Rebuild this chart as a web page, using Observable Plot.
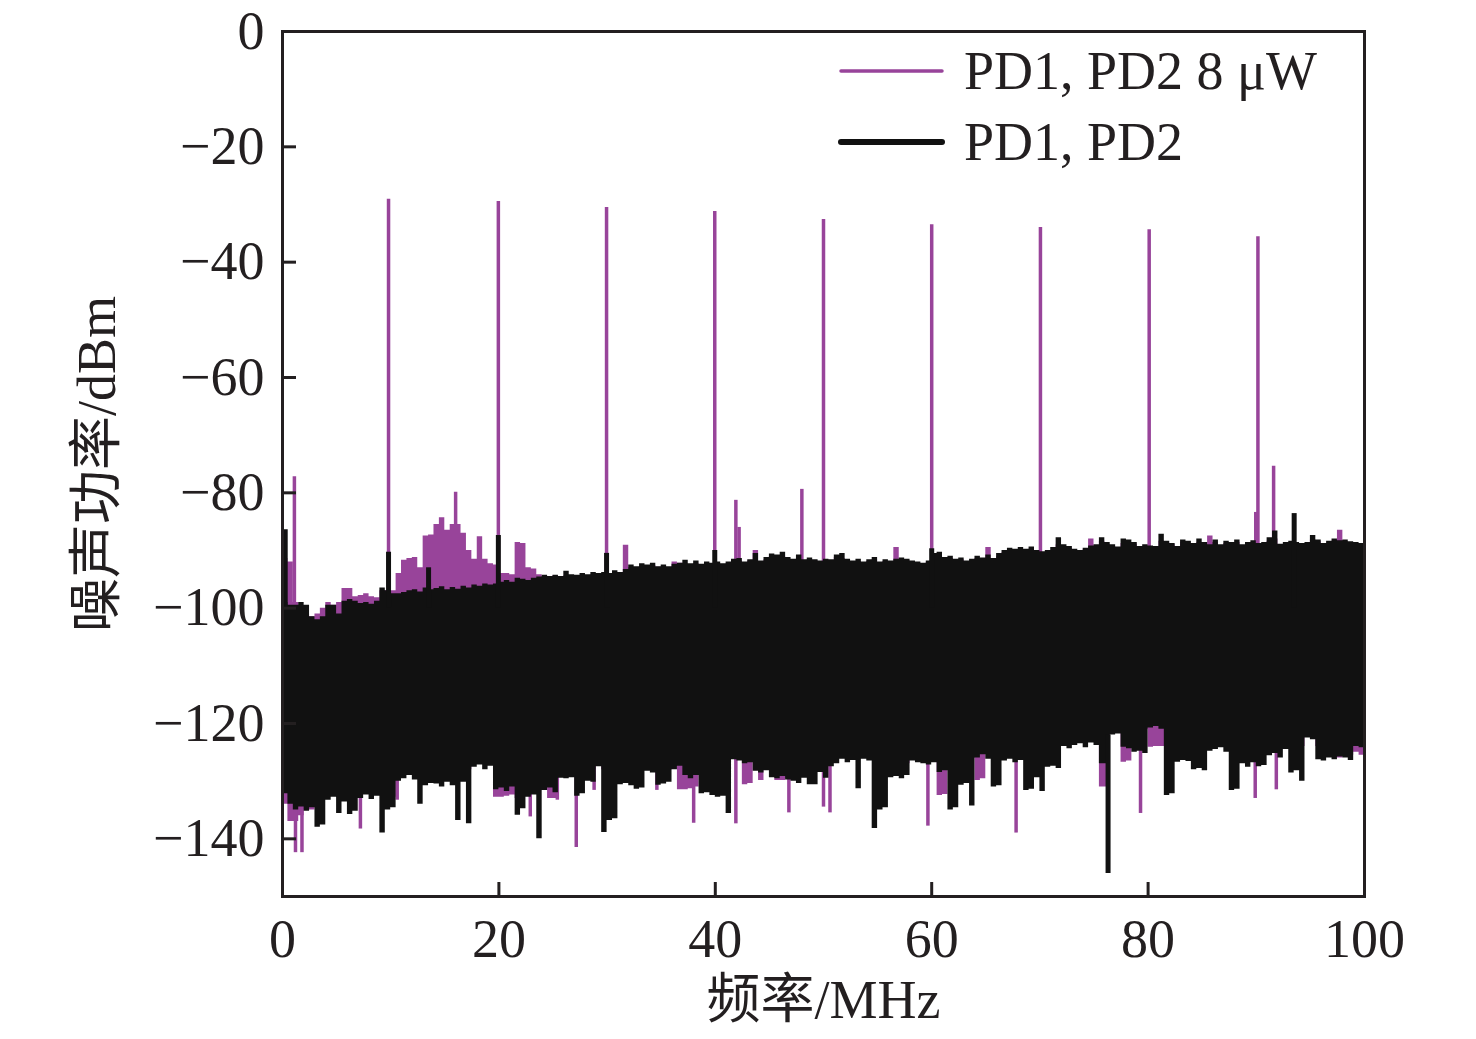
<!DOCTYPE html>
<html>
<head>
<meta charset="utf-8">
<script src="https://cdn.jsdelivr.net/npm/d3@7"></script>
<script src="https://cdn.jsdelivr.net/npm/@observablehq/plot@0.6"></script>
<style>
  html, body { margin: 0; padding: 0; background: #fff; }
  #chart { width: 1476px; height: 1039px; }
</style>
</head>
<body>
<div id="chart"></div>
<script>
// ---------- DATA ----------
const xTicks = [0, 20, 40, 60, 80, 100];
const yTicks = [0, -20, -40, -60, -80, -100, -120, -140];
const xLabel = "频率/MHz";
const yLabel = "噪声功率/dBm";
const seriesNames = ["PD1, PD2 8 μW", "PD1, PD2"];

// frequency sample grid, MHz
const freqs = [0,0.5,1,1.5,2,2.5,3,3.5,4,4.5,5,5.5,6,6.5,7,7.5,8,8.5,9,9.5,
10,10.5,11,11.5,12,12.5,13,13.5,14,14.5,15,15.5,16,16.5,17,17.5,18,18.5,19,19.5,
20,20.5,21,21.5,22,22.5,23,23.5,24,24.5,25,25.5,26,26.5,27,27.5,28,28.5,29,29.5,
30,30.5,31,31.5,32,32.5,33,33.5,34,34.5,35,35.5,36,36.5,37,37.5,38,38.5,39,39.5,
40,40.5,41,41.5,42,42.5,43,43.5,44,44.5,45,45.5,46,46.5,47,47.5,48,48.5,49,49.5,
50,50.5,51,51.5,52,52.5,53,53.5,54,54.5,55,55.5,56,56.5,57,57.5,58,58.5,59,59.5,
60,60.5,61,61.5,62,62.5,63,63.5,64,64.5,65,65.5,66,66.5,67,67.5,68,68.5,69,69.5,
70,70.5,71,71.5,72,72.5,73,73.5,74,74.5,75,75.5,76,76.5,77,77.5,78,78.5,79,79.5,
80,80.5,81,81.5,82,82.5,83,83.5,84,84.5,85,85.5,86,86.5,87,87.5,88,88.5,89,89.5,
90,90.5,91,91.5,92,92.5,93,93.5,94,94.5,95,95.5,96,96.5,97,97.5,98,98.5,99,99.5,100];

// PD1, PD2 (black): upper and lower envelope of the noise band, dBm
const blackTop = [
-99,-99.5,-99.5,-99,-99.5,-101.5,-102,-101.5,-99.5,-99.5,
-101,-98.8,-98.5,-98.8,-99.2,-99,-99.3,-98.8,-96.5,-97,
-97.5,-97.5,-97.3,-97,-96.8,-97.2,-96.5,-96.8,-96.6,-96.3,
-96.8,-96.4,-96.7,-96.2,-96.5,-96,-96.2,-95.8,-96,-95.8,
-95.5,-95.2,-95.5,-94.8,-95,-95.2,-94.8,-94.6,-94.3,-94.5,
-94.3,-94.5,-93.6,-94.2,-94.3,-94,-94.2,-93.8,-94,-93.8,
-94,-93.5,-93.8,-93.3,-92.5,-92.8,-92.3,-92.5,-92.2,-92.8,
-92.5,-92.8,-92.4,-92.2,-91.7,-92.3,-91.8,-92.4,-92,-92.2,
-92,-92.3,-92,-91.5,-91.4,-92,-91.6,-90.5,-91.8,-91.2,
-90.6,-90.8,-90.3,-91.2,-91.5,-90.8,-91.6,-91.3,-91.6,-91.8,
-91.5,-91.6,-90.8,-90.5,-91.5,-91.8,-91.5,-92,-91.6,-91.2,
-92,-91.6,-91.8,-91.5,-91.3,-91.5,-91.8,-92,-92.2,-91.8,
-90.5,-90.3,-91.2,-91,-91.5,-91.3,-91.8,-91.5,-91,-91.3,
-90.8,-91.4,-90.5,-90,-89.6,-89.8,-89.5,-89.8,-89.4,-90,
-90.2,-90,-89.5,-87.8,-89,-89.3,-89.8,-90,-89.6,-89.2,
-89,-87.8,-88.6,-89,-89.4,-88,-88.2,-88.6,-89.3,-89,
-89.2,-89.3,-87.2,-88.4,-88.8,-89.3,-88.2,-88.4,-88.8,-88,
-88.6,-89,-88.2,-89,-88.4,-88.6,-88.2,-89,-88.6,-88.3,
-88.8,-88.6,-87.8,-86.6,-88.9,-88.6,-88.4,-88.6,-88.8,-88.6,
-87.4,-88.2,-88.8,-88.4,-88,-88.3,-88.2,-88.5,-88.6,-88.8,
-88.8];
const blackBottom = [
-132.2,-134,-135,-134.5,-135.2,-134.6,-138,-137.6,-133.3,-132.8,
-135.6,-133.6,-135.8,-135.2,-133,-132.4,-133.2,-132.6,-139,-135,
-134.6,-130,-129.6,-129,-129.8,-134,-130.8,-130.4,-130.5,-131,
-130.2,-130.8,-136.8,-130.2,-137.4,-127.6,-127.2,-128,-127.4,-131.5,
-131.2,-131.8,-131,-135.9,-134.8,-132.8,-132.4,-140,-131.6,-131.2,
-132,-129.5,-129.6,-129.4,-132.6,-132.2,-130,-130.2,-127.5,-138.9,
-136.8,-136.5,-130.6,-130.4,-130.8,-131.4,-131.2,-128.3,-128.6,-130.7,
-130.5,-130.2,-128,-127.4,-129,-129.6,-129,-132.2,-132,-132.5,
-132.8,-132.6,-135.6,-126.3,-126.5,-127,-126.8,-128.3,-128.6,-128.2,
-129.4,-129.6,-129.2,-129.8,-130,-130.4,-129.5,-130.6,-130.6,-128.5,
-129.5,-127.5,-127,-126.2,-126.8,-126.4,-131.3,-126.2,-126.5,-138.2,
-135,-134.6,-129.4,-129.2,-129.6,-129,-126.5,-126.8,-127,-127.2,
-126.8,-128.5,-128.2,-135,-134.6,-130.7,-130.4,-134.3,-126,-125.4,
-126.2,-131,-130.8,-126.5,-126.2,-126.8,-126.4,-131.6,-131.4,-129.4,
-131.8,-127.6,-127.4,-127.8,-124,-124.4,-123.8,-123.5,-124.2,-123.4,
-123.8,-127,-127,-122,-121.8,-124.1,-124.4,-125,-124.8,-125.2,
-120.8,-120.5,-121,-132.5,-132.2,-126.7,-126.4,-126.6,-128,-127.8,
-128.2,-124.8,-124.5,-124.2,-125,-131.6,-131.4,-127,-127.6,-126.8,
-127.5,-127.3,-125.6,-125.2,-126,-124.5,-128.6,-128.2,-130,-122.5,
-122.8,-126.3,-126.5,-126,-126.3,-125.8,-126,-126.4,-124,-124.2,
-124];

// PD1, PD2 8 μW (purple): upper and lower envelope, dBm
const purpleTop = [
-91.4,-92,-99,-100,-101,-101.5,-101,-100,-99,-99.5,
-99,-96.6,-96.6,-98,-97.8,-97.5,-98,-98.2,-97,-97,
-97,-94,-91.7,-91.4,-91.2,-93,-87.5,-87.3,-85.5,-84.3,
-86.5,-85.5,-85.5,-87,-90,-91.5,-87.6,-91.5,-92.3,-92.5,
-94,-94,-94.2,-88.6,-88.8,-93,-93.2,-94.2,-94.5,-94.6,
-94.4,-94.8,-94.4,-94.6,-94.5,-94.4,-94.6,-94.2,-94.3,-94.1,
-94.2,-94,-93.8,-89.1,-93,-93.2,-93,-92.8,-92.6,-92.9,
-92.8,-93,-92,-92.2,-92.4,-92.6,-92.3,-92.6,-92.4,-92.5,
-92.4,-92.5,-92.3,-92,-91.8,-92.2,-91.8,-90,-92,-91.6,
-91,-91.4,-91,-91.5,-91.8,-91.3,-91.8,-91.6,-91.8,-92,
-91.8,-92,-91.2,-91.4,-91.8,-92,-91.9,-92.2,-91.9,-91.6,
-92.2,-91.9,-92,-89.5,-91.6,-91.8,-92,-92.2,-92.4,-92.1,
-91.2,-91,-91.5,-91.4,-91.8,-91.6,-92,-91.8,-91.4,-91.6,
-89.5,-91.6,-91,-90.4,-90,-90.2,-89.9,-90.1,-89.8,-90.2,
-90.4,-90.3,-90,-89,-89.4,-89.6,-90,-90.2,-89.9,-88,
-89.5,-88.4,-89,-89.3,-89.6,-88.8,-88.6,-88.9,-89.5,-89.3,
-89.4,-89.5,-88.4,-88.7,-89,-89.5,-88.6,-88.7,-89,-88.6,
-89,-87.5,-88.6,-89.2,-88.8,-88.9,-88.6,-89.2,-88.9,-88.6,
-89,-88.9,-88.4,-88,-89.1,-88.9,-88.7,-88.9,-89,-88.9,
-88.2,-88.5,-89,-88.7,-88.4,-86.5,-88.5,-88.7,-88.9,-89,
-89];
const purpleBottom = [
-134,-137,-137,-136,-135,-135,-134,-133,-132,-132,
-132,-132,-132,-131,-131,-130,-130,-131,-131,-132.8,
-132.8,-128,-128,-127,-127,-128,-128,-128,-128,-128,
-128,-128,-128,-128,-128,-127,-126,-126,-126,-132.8,
-132.8,-132.6,-132.4,-133,-132,-130,-131,-130,-130,-133,
-133,-128,-127,-127,-129,-129,-128,-128,-126,-128,
-128,-128,-128,-128,-128,-128,-128,-127,-127,-128,
-128,-128,-127,-131.5,-131.5,-131.3,-131,-129,-129,-129,
-129,-128,-128,-124,-124,-130.6,-130.4,-126,-129.9,-127,
-127,-129.9,-129.9,-129.6,-127,-127,-127,-127,-127,-126,
-126,-125,-124,-124,-124,-124,-125,-124,-124,-126,
-126,-126,-127,-127,-127,-127,-124,-124,-124,-124,
-124,-132.5,-132.3,-128,-128,-126,-126,-126,-129.9,-129.6,
-124,-126,-126,-124,-124,-124,-124,-126,-126,-125,
-126,-125,-125,-124.1,-124,-122,-122,-121,-121,-121,
-121,-131,-131,-120,-120,-126.7,-126.5,-121,-121,-121,
-124.1,-124,-124,-124,-126,-124,-124,-124,-124,-124,
-124,-122,-122,-122,-122,-124,-124,-124,-124,-124,
-124,-124,-124,-124,-124,-122,-124,-124,-124,-121,
-121,-124,-124,-125.5,-125.5,-126,-125.5,-125.5,-125,-125.5,
-125.5];

// isolated spikes: [frequency MHz, peak dBm]
const purpleUpSpikes = [[1.1,-77.2],[9.8,-29.1],[19.95,-29.5],[29.95,-30.5],[39.95,-31.2],
  [50.0,-32.6],[60.0,-33.5],[70.05,-34.0],[80.1,-34.4],[90.15,-35.6],
  [16.0,-79.9],[41.9,-81.3],[42.2,-86],[48.0,-79.4],[89.95,-83.4],[91.6,-75.4]];
const purpleDownSpikes = [[1.2,-142.4],[1.8,-142.4],[7.2,-138.3],[10.6,-133.3],[22.9,-136.2],
  [25.4,-133.3],[27.15,-141.5],[28.8,-131.6],[34.6,-131.6],[38.0,-137.3],[41.2,-135.6],
  [41.9,-137.4],[46.8,-135.5],[50.0,-134.5],[50.6,-135.5],[59.65,-137.8],[67.8,-139],
  [79.3,-135.6],[89.9,-133],[91.85,-131.5]];
const blackUpSpikes = [[0.25,-86.4],[9.8,-90.3],[13.5,-93],[19.95,-87.4],[29.95,-90.5],
  [39.95,-90],[60.0,-89.7],[93.5,-83.6]];
const blackDownSpikes = [[76.3,-146]];

// ---------- STYLE ----------
const purple = "#98449a";
const black = "#111111";
const frameColor = "#231f20";
const font = "'Liberation Serif', 'Times New Roman', 'Noto Sans CJK SC', serif";
const W = 1476, H = 1039;
const mL = 282, mR = 112, mT = 31, mB = 143;
const plotW = W - mL - mR, plotH = H - mT - mB;
const tickLen = 14;

const blackRows = freqs.map((f, i) => ({f, lo: blackBottom[i], hi: blackTop[i]}));
const purpleRows = freqs.map((f, i) => ({f, lo: purpleBottom[i], hi: purpleTop[i]}));
const spike = (arr) => arr.map(([f, v]) => ({f, v}));

const fmtY = d => d === 0 ? "0" : "\u2212" + Math.abs(d);

const chart = Plot.plot({
  width: W, height: H,
  marginLeft: mL, marginRight: mR, marginTop: mT, marginBottom: mB,
  style: {fontFamily: font, fontSize: "54px", color: "#231f20", background: "#fff"},
  x: {domain: [0, 100]},
  y: {domain: [-150, 0]},
  marks: [
    // purple series
    Plot.areaY(purpleRows, {x: "f", y1: "lo", y2: "hi", curve: "step-after", fill: purple}),
    Plot.ruleX(spike(purpleUpSpikes), {x: "f", y1: -100, y2: "v", stroke: purple, strokeWidth: 3.5}),
    Plot.ruleX(spike(purpleDownSpikes), {x: "f", y1: -122, y2: "v", stroke: purple, strokeWidth: 3.5}),
    // black series
    Plot.areaY(blackRows, {x: "f", y1: "lo", y2: "hi", curve: "step-after", fill: black}),
    Plot.ruleX(spike(blackUpSpikes), {x: "f", y1: -100, y2: "v", stroke: black, strokeWidth: 5}),
    Plot.ruleX(spike(blackDownSpikes), {x: "f", y1: -122, y2: "v", stroke: black, strokeWidth: 5}),
    // axes
    Plot.axisX({ticks: xTicks, tickSize: 0, tickPadding: 22, label: null, fill: "#231f20"}),
    Plot.axisY({ticks: yTicks, tickSize: 0, tickPadding: 18, label: null, tickFormat: fmtY, fill: "#231f20"}),
    Plot.tickX(xTicks, {x: d => d, insetTop: plotH - tickLen, stroke: frameColor, strokeWidth: 3}),
    Plot.tickY(yTicks, {y: d => d, insetRight: plotW - tickLen, stroke: frameColor, strokeWidth: 3}),
    Plot.frame({stroke: frameColor, strokeWidth: 3}),
    // axis titles
    Plot.text([xLabel], {text: d => d, frameAnchor: "bottom", dy: 104, lineAnchor: "middle", textAnchor: "middle", fill: "#231f20"}),
    Plot.text([yLabel], {text: d => d, frameAnchor: "left", dx: -185, rotate: -90, lineAnchor: "middle", textAnchor: "middle", fill: "#231f20"})
  ]
});

document.getElementById("chart").appendChild(chart);

// legend (inside the frame, top right)
const svg = d3.select(chart);
const legend = svg.append("g")
  .attr("font-family", font).attr("font-size", 54)
  .attr("fill", "#231f20").attr("text-anchor", "start");
const legendItems = [
  {name: seriesNames[0], color: purple, width: 3.5, y: 71},
  {name: seriesNames[1], color: black, width: 6, y: 142}
];
legendItems.forEach(it => {
  legend.append("line")
    .attr("x1", 841).attr("x2", 942).attr("y1", it.y).attr("y2", it.y)
    .attr("stroke", it.color).attr("stroke-width", it.width).attr("stroke-linecap", "round");
  legend.append("text")
    .attr("x", 964).attr("y", it.y).attr("dy", "0.34em")
    .attr("text-anchor", "start")
    .text(it.name);
});
</script>
</body>
</html>
